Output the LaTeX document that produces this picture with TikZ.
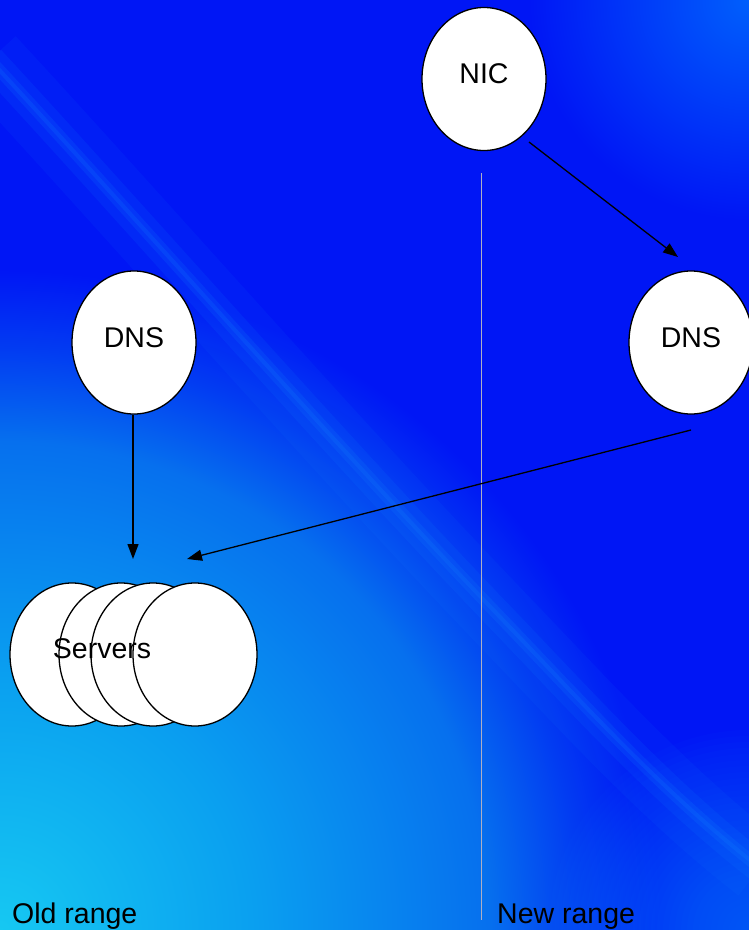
\documentclass[tikz,border=0pt]{standalone}
\usepackage{fontspec}
\setmainfont{Liberation Sans}
\usetikzlibrary{shapes.geometric,arrows.meta}
\definecolor{bgblue}{RGB}{0,22,245}
\definecolor{glowA}{RGB}{22,200,242}
\definecolor{glowB}{RGB}{10,160,240}
\definecolor{glowC}{RGB}{6,112,238}
\definecolor{glowD}{RGB}{2,60,242}
\definecolor{glowE}{RGB}{20,160,245}
\definecolor{glowF}{RGB}{0,95,252}
\definecolor{streak}{RGB}{20,140,255}
\definecolor{divider}{RGB}{175,175,195}
\pgfdeclareradialshading{glowSW}{\pgfpointorigin}{color(0bp)=(glowA); color(9.5bp)=(glowB); color(18.5bp)=(glowC); color(22bp)=(glowD); color(25bp)=(bgblue); color(50bp)=(bgblue)}
\pgfdeclareradialshading{glowNE}{\pgfpointorigin}{color(0bp)=(glowF); color(25bp)=(bgblue); color(50bp)=(bgblue)}
\tikzset{
  bubble/.style={ellipse, draw=black, line width=1.3pt, fill=white,
    minimum width=124pt, minimum height=143pt, inner sep=0pt,
    text depth=10pt, font=\fontsize{28.5}{34}\selectfont},
  plaintext/.style={inner sep=0pt, font=\fontsize{28.5}{34}\selectfont},
  flow/.style={line width=1.3pt, -{Triangle[length=15pt,width=11pt]}},
  divline/.style={draw=divider, line width=0.9pt}
}
\def\streakpath{(-10,60) .. controls (120,200) and (330,440) .. (500,617) .. controls (580,700) and (660,790) .. (760,868)}
\begin{document}
\begin{tikzpicture}[x=1pt,y=-1pt]
\useasboundingbox (0,0) rectangle (749,930);
% background
\fill[bgblue] (0,0) rectangle (749,930);
\begin{scope}
  \clip (0,0) rectangle (749,930);
  \shade[shading=glowNE] (749,0) circle (220);
  \shade[shading=glowSW] (0,930) circle (660);
  \foreach \r in {200,194,...,8} {
    \fill[glowE, opacity=0.022] (749,930) circle (\r);
  }
  \draw[streak, opacity=0.07, line width=70pt] \streakpath;
  \draw[streak, opacity=0.10, line width=30pt] \streakpath;
  \draw[streak, opacity=0.14, line width=12pt] \streakpath;
  \draw[streak, opacity=0.16, line width=4pt] \streakpath;
\end{scope}
% divider
\coordinate (divtop) at (481,173);
\coordinate (divbot) at (481,920);
\draw[divline] (divtop) -- (divbot);
% nodes
\node[bubble] (nic) at (484,79) {NIC};
\node[bubble] (dnsl) at (134,342.5) {DNS};
\node[bubble] (dnsr) at (691,342.5) {DNS};
\node[bubble] (srv1) at (72,654.5) {};
\node[bubble] (srv2) at (121,654.5) {};
\node[bubble] (srv3) at (153,654.5) {};
\node[bubble] (srv4) at (195,654.5) {};
\node[plaintext] (srvtext) at (102,649) {Servers};
\node[plaintext, anchor=base west] (oldr) at (12,923) {Old range};
\node[plaintext, anchor=base west] (newr) at (497,923) {New range};
% connectors
\coordinate (a1s) at (529,142);
\coordinate (a1e) at (678,257);
\coordinate (a2s) at (133,415);
\coordinate (a2e) at (133,559);
\coordinate (a3s) at (691,430);
\coordinate (a3e) at (187,559);
\draw[flow] (a1s) -- (a1e);
\draw[flow] (a2s) -- (a2e);
\draw[flow] (a3s) -- (a3e);
\end{tikzpicture}
\end{document}
